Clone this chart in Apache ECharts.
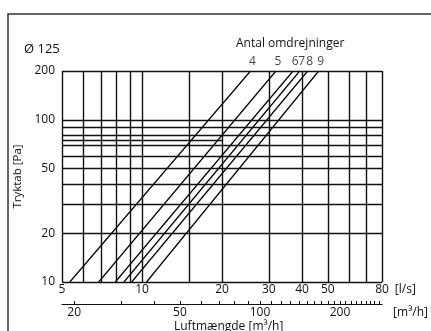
<!DOCTYPE html>
<html>
<head>
<meta charset="utf-8">
<script src="https://cdn.jsdelivr.net/npm/echarts@6/dist/echarts.min.js"></script>
<style>html,body{margin:0;padding:0;background:#fff}#c{width:431px;height:331px}</style>
</head>
<body>
<div id="c"></div>
<script>
// Data
const speeds = ['4', '5', '6', '7', '8', '9'];
const flowAt10Pa = [5.35, 6.87, 7.93, 8.55, 9.14, 10.4];     // l/s at 10 Pa
const flowAt200Pa = [25.6, 31.9, 37.0, 39.2, 42.0, 46.2];    // l/s at 200 Pa
const xGridLs = [5, 6, 7, 8, 9, 10, 15, 20, 30, 40, 50, 60, 70, 80];
const yGridPa = [10, 20, 30, 40, 50, 60, 70, 80, 90, 100, 200];
const partialGridPa = [75];
const partialGridRange = [5, 20];
const xTickLabels = [5, 10, 20, 30, 40, 50, 80];
const yTickLabels = [10, 20, 50, 100, 200];
const m3hTicks = [20, 30, 40, 50, 60, 70, 80, 90, 100, 110, 120, 130, 140, 150, 160, 170, 180, 190, 200, 210, 220, 230, 240, 250, 260, 270, 280];
const m3hLabels = [20, 50, 100, 200];
const pressureRange = [10, 200];

const FONT = 'Open Sans';
const INK = '#111';
const FS = 12;
const chart = echarts.init(document.getElementById('c'), null, {renderer: 'canvas'});

const gridMarks = [];
xGridLs.forEach(v => gridMarks.push({xAxis: v}));
yGridPa.forEach(v => gridMarks.push({yAxis: v}));
partialGridPa.forEach(v => gridMarks.push([{coord: [partialGridRange[0], v]}, {coord: [partialGridRange[1], v]}]));

const series = [{
  type: 'line', data: [], silent: true,
  markLine: {
    silent: true, symbol: 'none', animation: false,
    label: {show: false},
    lineStyle: {color: INK, width: 1.4, type: 'solid'},
    data: gridMarks
  }
}];
speeds.forEach((s, i) => {
  series.push({
    type: 'line', name: s, silent: true, symbol: 'none', animation: false,
    lineStyle: {color: '#000', width: 1.2},
    data: [[flowAt10Pa[i], pressureRange[0]], [flowAt200Pa[i], pressureRange[1]]]
  });
});
series.push({
  type: 'scatter', silent: true, animation: false, symbolSize: 1,
  itemStyle: {color: 'rgba(0,0,0,0)'},
  label: {show: true, position: 'top', distance: 3, offset: [2, 0], color: INK, fontFamily: FONT, fontSize: FS,
    formatter: p => speeds[p.dataIndex]},
  data: flowAt200Pa.map(v => [v, pressureRange[1]])
});

chart.setOption({
  animation: false,
  textStyle: {fontFamily: FONT},
  title: [
    {text: 'Ø 125', left: 19, top: 38, textStyle: {fontSize: 13, fontWeight: 'normal', color: INK, fontFamily: FONT}},
    {text: 'Antal omdrejninger', left: 231, top: 33, textStyle: {fontSize: FS, fontWeight: 'normal', color: INK, fontFamily: FONT}},
    {text: 'Luftmængde [m³/h]', left: 169, top: 316, textStyle: {fontSize: FS, fontWeight: 'normal', color: INK, fontFamily: FONT}}
  ],
  graphic: [{
    type: 'rect', silent: true,
    shape: {x: 8, y: 14, width: 600, height: 600},
    style: {fill: 'none', stroke: '#333', lineWidth: 1.5}
  }],
  grid: {left: 62, right: 44, top: 71, bottom: 49},
  xAxis: [{
    type: 'log', logBase: 10, min: 5, max: 80,
    name: '[l/s]', nameLocation: 'end', nameGap: 8,
    nameTextStyle: {color: INK, fontSize: FS, fontFamily: FONT, verticalAlign: 'top', padding: [2, 0, 0, 0]},
    axisLine: {show: false}, axisTick: {show: false}, splitLine: {show: false}, minorTick: {show: false},
    axisLabel: {customValues: xTickLabels, color: INK, fontSize: FS, fontFamily: FONT, margin: 2, formatter: v => String(v)}
  }, {
    type: 'log', logBase: 10, min: 18, max: 288, position: 'bottom', offset: 22,
    name: '[m³/h]', nameLocation: 'end', nameGap: 11,
    nameTextStyle: {color: INK, fontSize: FS, fontFamily: FONT, verticalAlign: 'top', padding: [3, 0, 0, 0]},
    axisLine: {show: true, lineStyle: {color: INK, width: 1.2}},
    axisTick: {show: true, inside: true, length: 3, customValues: m3hTicks, lineStyle: {color: INK, width: 1}},
    splitLine: {show: false},
    axisLabel: {customValues: m3hLabels, color: INK, fontSize: FS, fontFamily: FONT, margin: 3, formatter: v => String(v)}
  }],
  yAxis: {
    type: 'log', logBase: 10, min: 10, max: 200,
    name: 'Tryktab [Pa]', nameLocation: 'middle', nameGap: 31, nameRotate: 90,
    nameTextStyle: {color: INK, fontSize: 11.5, fontFamily: FONT},
    axisLine: {show: false}, axisTick: {show: false}, splitLine: {show: false},
    axisLabel: {customValues: yTickLabels, color: INK, fontSize: FS, fontFamily: FONT, margin: 7, formatter: v => String(v)}
  },
  series: series
});
</script>
</body>
</html>
